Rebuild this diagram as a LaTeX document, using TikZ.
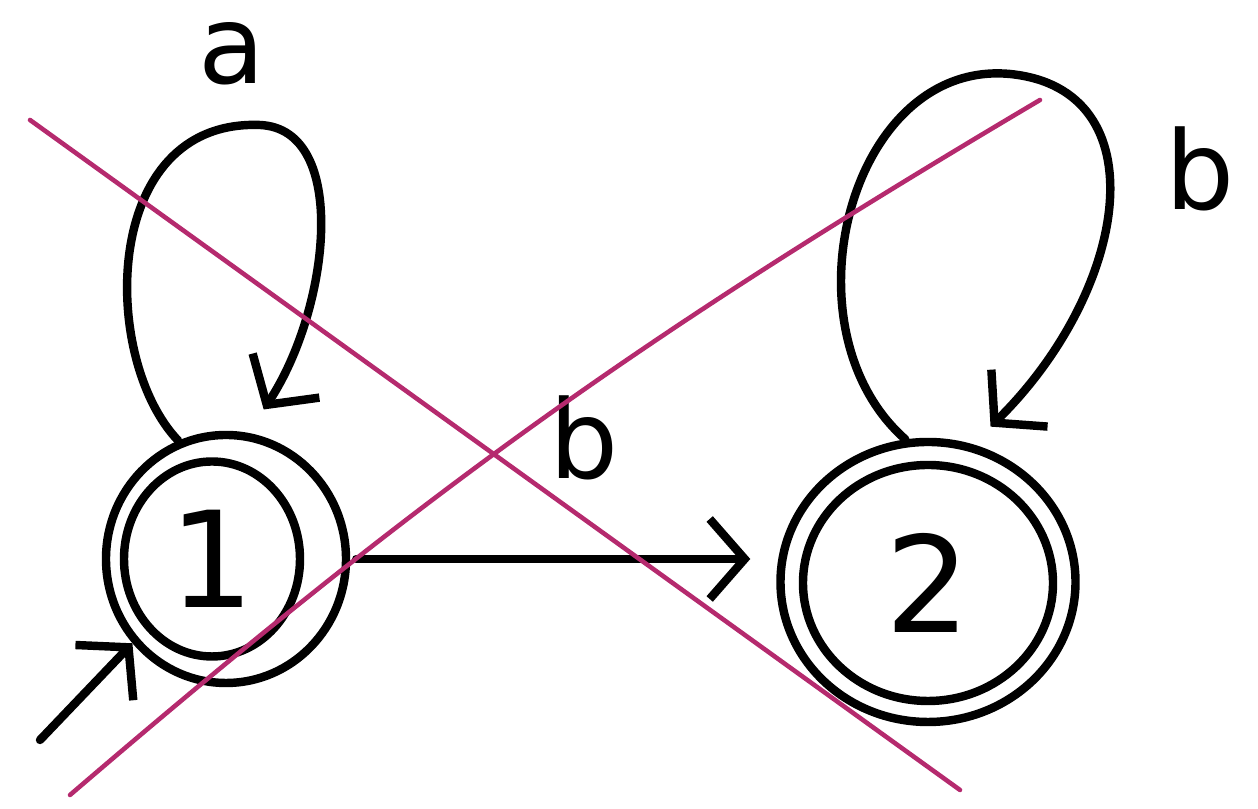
\documentclass[tikz,border=0pt]{standalone}
\usepackage{fontspec}
\setmainfont{DejaVu Sans}
\usepackage{tikz}
\usetikzlibrary{arrows.meta, shapes.geometric}
\definecolor{strike}{HTML}{B52A6E}

\begin{document}
\begin{tikzpicture}[
  pen/.style={line width=2.4pt, line cap=round, line join=round},
  tip/.style={-{Straight Barb[length=3.5mm, width=8mm]}},
  inring/.style={pen, draw, ellipse, inner sep=0pt, font=\fontsize{38}{38}\selectfont},
  outring/.style={pen, draw, ellipse, inner sep=0pt},
  lbl/.style={inner sep=0pt, font=\fontsize{31}{31}\selectfont},
  cross/.style={strike, line width=1.3pt, line cap=round}]
  \useasboundingbox (0,0) rectangle (12.58,8.09);
  \node[inring, minimum width=1.76cm, minimum height=1.95cm] (q1) at (2.12,2.50) {1};
  \node[outring, minimum width=2.40cm, minimum height=2.48cm] (q1o) at (2.26,2.50) {};
  \node[inring, minimum width=2.50cm, minimum height=2.36cm] (q2) at (9.28,2.26) {2};
  \node[outring, minimum width=2.95cm, minimum height=2.80cm] (q2o) at (9.28,2.27) {};
  \node[lbl] (la) at (2.32,7.55) {a};
  \node[lbl] (lb2) at (12.0,6.40) {b};
  \coordinate (init) at (0.40,0.69);
  \draw[pen, tip] (init) -- (q1o.222);
  \draw[pen, tip, shorten >=0.28cm] (q1o.112) .. controls (1.0,4.5) and (1.0,6.9) .. (2.6,6.84)
    .. controls (3.5,6.8) and (3.3,5.0) .. (q1o.80);
  \draw[pen, tip, shorten >=0.25cm] (q2o.99) .. controls (7.8,4.8) and (8.5,7.5) .. (10.1,7.35)
    .. controls (11.6,7.2) and (11.3,5.2) .. (q2o.72);
  \draw[pen, tip, shorten <=0.06cm, shorten >=0.26cm] (q1o) -- (q1o -| q2o.west)
    node[lbl, pos=0.55, above=0.75cm] (lb1) {b};
  \draw[cross] (0.30,6.89) -- (9.60,0.19);
  \draw[cross] (0.70,0.14) to[bend left=5] (10.40,7.09);
\end{tikzpicture}
\end{document}
